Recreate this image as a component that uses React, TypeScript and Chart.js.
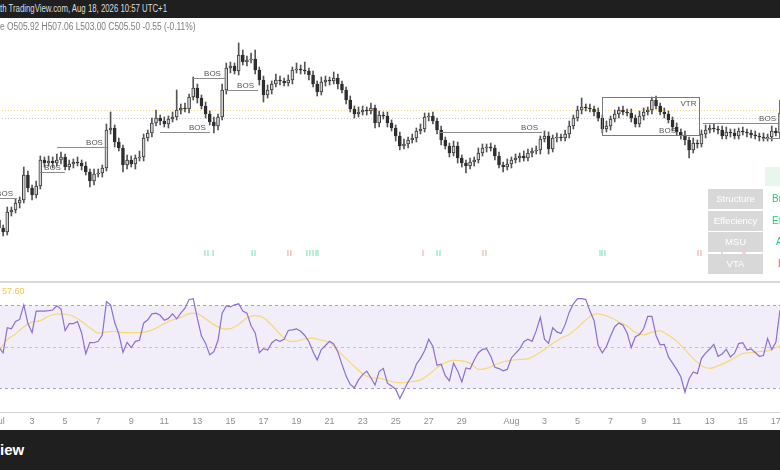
import React, { useEffect, useRef } from "react";
import { Chart, registerables } from "chart.js";

Chart.register(...registerables);

// ---------- DATA ----------
const candleStepDays = 0.25; // one candle every 6 hours, days counted from Jul 1
const firstOpen = 494.8;
const closes = [
  494.0, 493.6, 495.6, 495.8, 496.5, 496.8, 499.3, 498.0, 497.3, 498.2,
  500.8, 500.5, 500.7, 500.5, 500.8, 501.1, 500.1, 500.4, 500.6, 500.5,
  500.2, 499.6, 498.7, 499.4, 499.5, 500.0, 503.8, 504.0, 502.6, 502.0,
  500.3, 500.8, 500.4, 501.0, 501.1, 503.0, 503.5, 504.5, 505.0, 504.7,
  504.4, 504.9, 505.1, 505.8, 506.0, 505.9, 507.1, 508.0, 507.0, 506.2,
  505.4, 504.6, 504.2, 505.1, 507.8, 510.0, 510.2, 509.7, 511.3, 510.6,
  510.8, 510.9, 509.8, 508.8, 507.3, 507.8, 508.4, 508.8, 508.7, 508.5,
  508.8, 509.8, 509.9, 509.8, 509.7, 509.3, 508.4, 507.6, 508.6, 508.8,
  508.7, 509.0, 508.4, 507.8, 506.8, 505.9, 505.4, 505.6, 505.8, 505.7,
  506.0, 504.5, 505.3, 505.2, 504.5, 504.0, 503.2, 502.2, 502.4, 502.8,
  503.0, 503.7, 503.9, 505.1, 505.2, 504.7, 503.8, 502.8, 502.2, 501.5,
  502.2, 501.0, 500.5, 500.2, 500.6, 500.8, 501.5, 502.0, 502.1, 502.0,
  501.2, 500.3, 500.1, 500.4, 500.8, 501.0, 501.2, 501.0, 501.5, 501.7,
  501.8, 502.9, 503.2, 501.9, 503.0, 503.1, 503.0, 503.4, 504.2, 505.0,
  505.8, 506.1, 506.0, 505.9, 505.6, 505.0, 503.9, 504.2, 504.9, 505.4,
  505.8, 505.6, 505.5, 505.0, 504.4, 505.2, 505.6, 505.8, 506.8, 506.2,
  505.6, 505.4, 504.8, 504.1, 503.6, 503.3, 502.8, 501.8, 502.5, 502.4,
  503.4, 503.8, 504.0, 503.9, 503.8, 503.2, 503.6, 503.5, 503.2, 503.7,
  503.6, 503.5, 503.3, 503.2, 503.1, 503.0, 503.1, 503.7, 503.5, 505.5,
];
const wickUp = [
  0.4, 0.3, 0.5, 0.3, 0.4, 0.3, 0.8, 0.4, 0.3, 0.5,
  0.4, 0.3, 0.5, 0.4, 0.6, 0.5, 0.3, 0.4, 0.3, 0.5,
  0.3, 0.4, 0.3, 0.5, 0.4, 0.3, 0.6, 1.6, 0.3, 0.4,
  0.3, 0.5, 0.4, 0.3, 0.6, 0.4, 0.3, 0.5, 0.8, 0.3,
  0.4, 0.3, 0.5, 2.0, 0.4, 0.5, 0.3, 1.1, 0.4, 0.3,
  0.4, 0.3, 0.5, 0.3, 0.6, 0.5, 0.4, 0.3, 1.2, 0.5,
  0.4, 0.6, 0.9, 0.3, 0.4, 0.5, 0.3, 0.6, 0.4, 0.3,
  0.5, 0.3, 0.6, 0.4, 0.8, 0.3, 0.4, 0.3, 0.5, 0.4,
  0.3, 0.6, 0.4, 0.3, 0.3, 0.4, 0.3, 0.5, 0.4, 0.3,
  0.5, 0.3, 0.4, 0.3, 0.4, 0.3, 0.3, 0.4, 0.5, 0.3,
  0.4, 0.3, 0.5, 0.4, 0.3, 0.4, 0.3, 0.4, 0.3, 0.3,
  0.5, 0.4, 0.3, 0.3, 0.4, 0.3, 0.5, 0.4, 0.3, 0.4,
  0.3, 0.4, 0.3, 0.5, 0.3, 0.4, 0.3, 0.5, 0.4, 0.3,
  0.4, 0.3, 0.5, 0.4, 0.3, 0.4, 0.3, 0.4, 0.5, 0.3,
  0.4, 0.9, 0.3, 0.4, 0.3, 0.4, 0.3, 0.5, 0.3, 0.4,
  0.3, 0.4, 0.3, 0.4, 0.3, 0.5, 0.4, 0.3, 0.3, 0.4,
  0.3, 0.4, 0.3, 0.3, 0.4, 0.3, 0.4, 0.3, 0.5, 0.3,
  0.4, 0.5, 0.3, 0.4, 0.3, 0.4, 0.5, 0.3, 0.4, 0.3,
  0.4, 0.3, 0.3, 0.4, 0.3, 0.4, 0.3, 0.5, 0.3, 1.3,
];
const wickDn = [
  1.0, 0.4, 0.3, 0.4, 0.3, 0.5, 0.3, 0.4, 0.5, 0.3,
  0.3, 0.4, 0.3, 0.5, 0.3, 0.4, 0.3, 0.3, 0.4, 0.3,
  0.4, 0.3, 0.6, 0.4, 0.3, 0.4, 0.3, 0.4, 0.5, 0.3,
  0.7, 0.4, 0.3, 0.5, 0.3, 0.4, 0.3, 0.4, 0.3, 0.4,
  0.3, 0.4, 0.3, 0.3, 0.4, 0.3, 0.4, 0.3, 0.5, 0.3,
  0.4, 0.3, 0.7, 0.4, 0.3, 0.4, 0.5, 0.3, 0.4, 0.3,
  0.4, 0.3, 0.4, 0.5, 0.7, 0.3, 0.4, 0.3, 0.4, 0.3,
  0.3, 0.4, 0.3, 0.4, 0.3, 0.5, 0.3, 0.4, 0.3, 0.4,
  0.4, 0.3, 0.5, 0.3, 0.4, 0.3, 0.4, 0.3, 0.3, 0.4,
  0.3, 0.5, 0.4, 0.3, 0.4, 0.3, 0.5, 0.4, 0.3, 0.4,
  0.3, 0.4, 0.3, 0.3, 0.4, 0.3, 0.4, 0.5, 0.3, 0.4,
  0.3, 0.5, 0.4, 0.7, 0.3, 0.4, 0.3, 0.3, 0.4, 0.3,
  0.4, 0.3, 0.5, 0.3, 0.4, 0.3, 0.4, 0.3, 0.3, 0.4,
  0.3, 0.4, 0.3, 0.5, 0.3, 0.4, 0.3, 0.3, 0.4, 0.3,
  0.3, 0.4, 0.3, 0.3, 0.4, 0.3, 0.4, 0.3, 0.4, 0.3,
  0.4, 0.3, 0.3, 0.4, 0.3, 0.3, 0.4, 0.3, 0.4, 0.3,
  0.3, 0.4, 0.3, 0.4, 0.3, 0.4, 0.5, 0.8, 0.3, 0.4,
  0.3, 0.4, 0.3, 0.3, 0.4, 0.3, 0.3, 0.4, 0.3, 0.3,
  0.3, 0.4, 0.3, 0.3, 0.4, 0.3, 0.3, 0.4, 0.3, 0.5,
];
const rsiValues = [
  49.5, 47, 59, 58.5, 62, 63, 70, 61, 56.7, 67,
  67, 67, 67.2, 67.5, 69.5, 68, 57.6, 61, 61, 62,
  56.5, 46.5, 52, 51.8, 52.5, 55.5, 71.5, 70, 61.5, 56,
  47.2, 52, 49.5, 52.5, 53, 61.2, 62.8, 65.7, 66, 65,
  62.6, 63.5, 65.7, 63.3, 66, 68.4, 72.6, 73, 63.5, 55,
  51.5, 46, 47.5, 53, 66, 69.5, 69, 70, 70.5, 67,
  66, 60, 56.5, 47, 49, 48.3, 51.7, 53.3, 52.5, 53.5,
  57.7, 58, 58.5, 57.3, 55.3, 52.3, 47.5, 43.5, 48.5, 50.5,
  52.5, 51.2, 47.4, 41.4, 35.8, 31.8, 30.2, 34, 36.5, 38.2,
  35, 31.5, 38, 39.5, 32.4, 31, 29.5, 25, 29, 33,
  36, 41.5, 44.3, 48, 53.5, 50, 41, 41.5, 36, 33.5,
  42, 38.3, 33, 39.7, 39.2, 43.5, 47, 48.6, 49, 45.3,
  40, 39.4, 38.3, 39, 44.5, 46.7, 48.8, 52.3, 53.5, 52.5,
  57.5, 64, 53.5, 51.5, 59, 57, 56.2, 60.5, 66.5, 70.5,
  73, 73, 72.5, 67, 62.5, 50.5, 47, 50, 55, 59.5,
  61.3, 60.2, 56.5, 49.5, 54.7, 55.8, 58.5, 64.5, 64.5, 55.3,
  50.8, 51, 45, 42, 39, 35.5, 28, 34.5, 37.8, 37,
  44.3, 46.8, 48.8, 51, 45.3, 46.4, 48.7, 45, 46.8, 51.4,
  51.8, 48.3, 48.9, 47.1, 45.3, 45.7, 53.8, 48.5, 52, 67.5,
];
const rsiMaStepDays = 0.5;
const rsiMaValues = [
  47.8, 53.3, 56, 59.5, 61.7, 62.4, 64.5, 65.6, 65.5, 64.5,
  62, 59, 56.5, 57, 57.2, 56.7, 56.7, 56.7, 57.3, 58.8,
  61, 62.8, 64, 65.8, 65.8, 63.3, 60.5, 58.6, 58.6, 60.6,
  63.7, 64.8, 63.8, 60.2, 56, 52.6, 52.6, 53.6, 54, 53,
  52, 48, 44.2, 40.4, 36.9, 35, 34.8, 33.8, 32.8, 32.6,
  33.2, 33.9, 36.5, 39.8, 42.2, 43.3, 43.1, 41.9, 39.1, 39.5,
  41.2, 42.7, 43.4, 43.8, 44.1, 46, 48.6, 51.4, 54, 55.8,
  59, 62.8, 65.5, 65.3, 63.9, 61.8, 59.8, 56.8, 55.6, 56.9,
  57.5, 55.4, 52.6, 48.5, 44.2, 40.8, 39.5, 40.7, 42.4, 44.5,
  46.7, 47, 47.6, 47.9, 49.5, 50.8,
];
const tickDays = [0, 2, 4, 6, 8, 10, 12, 14, 16, 18, 20, 22, 24, 26, 28, 31, 33, 35, 37, 39, 41, 43, 45, 47];
const tickLabels = ["Jul", "3", "5", "7", "9", "11", "13", "15", "17", "19", "21", "23", "25", "27", "29", "Aug", "3", "5", "7", "9", "11", "13", "15", "17"];

const bosStart = [0.06, 2.48, 3.51, 9.74, 11.68, 13.73, 26.68, 36.48, 42.59, 46.16];
const bosEnd = [1.09, 3.99, 6.53, 12.76, 13.67, 15.67, 32.85, 41.2, 47.25, 47.25];
const bosLevel = [497.0, 499.6, 502.1, 503.6, 509.0, 507.8, 503.6, 503.3, 504.5, 503.0];
const bosText = ["BOS", "BOS", "BOS", "BOS", "BOS", "BOS", "BOS", "BOS", "BOS", ""];

const vtrDays = [36.48, 42.35];
const vtrPrices = [507.1, 503.3];
const vtrText = "VTR";

const bullSignalDays = [12.46, 12.64, 12.95, 15.31, 15.49, 18.63, 18.81, 19.0, 19.18, 19.3, 26.5, 26.68, 36.36, 36.48, 36.66, 43.74];
const bearSignalDays = [17.48, 17.66, 25.65, 29.28, 29.46, 42.29, 42.47, 45.01, 45.13];
const signalPrice = 491.5;

const priceLevels = [505.8, 505.0];
const rsiUpper = 70;
const rsiMiddle = 50;
const rsiLower = 30;
const rsiLastMa = "57.60";

const tableRows = ["Structure", "Effeciency", "MSU", "VTA"];
const tableValues = ["Break", "Efficient", "Active", "Bearish"];

const headerLine1 = "th TradingView.com, Aug 18, 2026 10:57 UTC+1";
const ohlcLine = "e O505.92 H507.06 L503.00 C505.50 -0.55 (-0.11%)";

// ---------- LAYOUT / STYLE ----------
const X_MIN = 0;
const X_MAX = 47.25;
const PRICE_MIN = 488.6;
const PRICE_MAX = 516.8;
const RSI_MIN = 18.57;
const RSI_MAX = 80.48;
const AXIS_H = 18;
const FONT = '"Liberation Sans", Arial, sans-serif';

const overlayPlugin = {
  id: "priceOverlay",
  beforeDatasetsDraw(chart: any) {
    const { ctx, chartArea, scales } = chart;
    const y = scales.y;
    ctx.save();
    ctx.lineWidth = 1;
    ctx.setLineDash([1, 2]);
    priceLevels.forEach((p, i) => {
      const py = Math.round(y.getPixelForValue(p)) + 0.5;
      ctx.strokeStyle = i === 0 ? "#f3d77a" : "#c9c9c9";
      ctx.beginPath();
      ctx.moveTo(chartArea.left, py);
      ctx.lineTo(chartArea.right, py);
      ctx.stroke();
    });
    ctx.restore();
  },
  afterDatasetsDraw(chart: any) {
    const { ctx, scales } = chart;
    const x = scales.x;
    const y = scales.y;
    ctx.save();
    ctx.lineWidth = 1;
    ctx.strokeStyle = "#8c8c8c";
    ctx.fillStyle = "#555555";
    ctx.font = `8px ${FONT}`;
    ctx.textAlign = "right";
    ctx.textBaseline = "bottom";
    for (let i = 0; i < bosLevel.length; i++) {
      const x0 = x.getPixelForValue(bosStart[i]);
      const x1 = x.getPixelForValue(bosEnd[i]);
      const py = Math.round(y.getPixelForValue(bosLevel[i])) + 0.5;
      ctx.beginPath();
      ctx.moveTo(x0, py);
      ctx.lineTo(x1, py);
      ctx.stroke();
      if (bosText[i]) ctx.fillText(bosText[i], x1 - 4, py - 1);
    }
    const bx0 = Math.round(x.getPixelForValue(vtrDays[0])) + 0.5;
    const bx1 = Math.round(x.getPixelForValue(vtrDays[1])) + 0.5;
    const by0 = Math.round(y.getPixelForValue(vtrPrices[0])) + 0.5;
    const by1 = Math.round(y.getPixelForValue(vtrPrices[1])) + 0.5;
    ctx.strokeStyle = "#7a7a7a";
    ctx.strokeRect(bx0, by0, bx1 - bx0, by1 - by0);
    ctx.textBaseline = "top";
    ctx.fillText(vtrText, bx1 - 3, by0 + 2);
    ctx.restore();
  },
};

const rsiPlugin = {
  id: "rsiBands",
  beforeDatasetsDraw(chart: any) {
    const { ctx, chartArea, scales } = chart;
    const y = scales.y;
    const yu = Math.round(y.getPixelForValue(rsiUpper)) + 0.5;
    const ym = Math.round(y.getPixelForValue(rsiMiddle)) + 0.5;
    const yl = Math.round(y.getPixelForValue(rsiLower)) + 0.5;
    ctx.save();
    ctx.fillStyle = "rgba(126,87,194,0.10)";
    ctx.fillRect(chartArea.left, yu, chartArea.right - chartArea.left, yl - yu);
    ctx.lineWidth = 1;
    ctx.setLineDash([3, 3]);
    [[yu, "#a5a3ab"], [ym, "#c3c1c8"], [yl, "#a5a3ab"]].forEach(([py, c]: any) => {
      ctx.strokeStyle = c;
      ctx.beginPath();
      ctx.moveTo(chartArea.left, py);
      ctx.lineTo(chartArea.right, py);
      ctx.stroke();
    });
    ctx.restore();
  },
  afterDraw(chart: any) {
    // time axis drawn below the pane, using the chart's own x scale
    const { ctx, chartArea, scales } = chart;
    const x = scales.x;
    ctx.save();
    ctx.strokeStyle = "#d2d2d2";
    ctx.lineWidth = 1;
    const by = Math.round(chartArea.bottom) + 0.5;
    ctx.beginPath();
    ctx.moveTo(0, by);
    ctx.lineTo(chart.width, by);
    ctx.stroke();
    ctx.fillStyle = "#8d8d8d";
    ctx.font = `9px ${FONT}`;
    ctx.textAlign = "center";
    ctx.textBaseline = "middle";
    tickDays.forEach((d, i) => {
      ctx.fillText(tickLabels[i], x.getPixelForValue(d), chartArea.bottom + 10);
    });
    ctx.restore();
  },
};

export default function App() {
  const priceRef = useRef<HTMLCanvasElement>(null);
  const rsiRef = useRef<HTMLCanvasElement>(null);

  useEffect(() => {
    document.body.style.margin = "0";
    const opens = closes.map((_, i) => (i === 0 ? firstOpen : closes[i - 1]));
    const days = closes.map((_, i) => i * candleStepDays);
    const highs = closes.map((c, i) => Math.max(c, opens[i]) + wickUp[i]);
    const lows = closes.map((c, i) => Math.min(c, opens[i]) - wickDn[i]);
    const isUp = closes.map((c, i) => c >= opens[i]);

    const price = new Chart(priceRef.current as HTMLCanvasElement, {
      type: "bar",
      data: {
        datasets: [
          {
            type: "scatter",
            data: bullSignalDays.map((d) => ({ x: d, y: signalPrice })),
            pointStyle: "line",
            rotation: 90,
            radius: 3,
            borderWidth: 1,
            borderColor: "#72e3b0",
            order: 0,
          } as any,
          {
            type: "scatter",
            data: bearSignalDays.map((d) => ({ x: d, y: signalPrice })),
            pointStyle: "line",
            rotation: 90,
            radius: 3,
            borderWidth: 1,
            borderColor: "#f4a0a0",
            order: 0,
          } as any,
          {
            type: "bar",
            data: days.map((d, i) => ({ x: d, y: [opens[i], closes[i]] })),
            barThickness: 3,
            minBarLength: 1,
            grouped: false,
            borderWidth: 1,
            borderSkipped: false,
            backgroundColor: isUp.map((u) => (u ? "#d4d4d4" : "#2e2e2e")),
            borderColor: isUp.map((u) => (u ? "#3c3c3c" : "#2e2e2e")),
            order: 1,
          } as any,
          {
            type: "bar",
            data: days.map((d, i) => ({ x: d, y: [lows[i], highs[i]] })),
            barThickness: 1,
            grouped: false,
            borderWidth: 0,
            backgroundColor: "#555555",
            order: 2,
          } as any,
        ],
      },
      options: {
        animation: false,
        responsive: false,
        maintainAspectRatio: false,
        layout: { padding: 0, autoPadding: false } as any,
        plugins: { legend: { display: false }, tooltip: { enabled: false } },
        scales: {
          x: { type: "linear", min: X_MIN, max: X_MAX, offset: false, display: false },
          y: { type: "linear", min: PRICE_MIN, max: PRICE_MAX, display: false },
        },
      },
      plugins: [overlayPlugin],
    });

    const rsi = new Chart(rsiRef.current as HTMLCanvasElement, {
      type: "line",
      data: {
        datasets: [
          {
            data: rsiValues.map((v, i) => ({ x: i * candleStepDays, y: v })),
            borderColor: "#8b6fd0",
            borderWidth: 1.2,
            pointRadius: 0,
            tension: 0,
          },
          {
            data: rsiMaValues.map((v, i) => ({ x: i * rsiMaStepDays, y: v })),
            borderColor: "#f6d874",
            borderWidth: 1.2,
            pointRadius: 0,
            tension: 0.3,
          },
        ],
      },
      options: {
        animation: false,
        responsive: false,
        maintainAspectRatio: false,
        layout: { padding: { left: 0, right: 0, top: 0, bottom: AXIS_H }, autoPadding: false } as any,
        plugins: { legend: { display: false }, tooltip: { enabled: false } },
        scales: {
          x: { type: "linear", min: X_MIN, max: X_MAX, offset: false, display: false },
          y: { type: "linear", min: RSI_MIN, max: RSI_MAX, display: false },
        },
      },
      plugins: [rsiPlugin],
    });

    return () => {
      price.destroy();
      rsi.destroy();
    };
  }, []);

  return (
    <div
      style={{
        position: "fixed",
        left: 0,
        top: 0,
        width: 780,
        height: 470,
        overflow: "hidden",
        background: "#ffffff",
        fontFamily: FONT,
      }}
    >
      <canvas
        ref={priceRef}
        width={781}
        height={282}
        style={{ position: "absolute", left: -1, top: 0, width: 781, height: 282 }}
      />
      <div style={{ position: "absolute", left: 0, top: 281, width: 780, height: 2, background: "#d9d9d9" }} />
      <canvas
        ref={rsiRef}
        width={781}
        height={147}
        style={{ position: "absolute", left: -1, top: 283, width: 781, height: 147 }}
      />
      {/* header */}
      <div
        style={{
          position: "absolute",
          left: 0,
          top: 0,
          width: 780,
          height: 18,
          background: "#1f1f1f",
          color: "#dcdcdc",
          fontSize: 10,
          lineHeight: "18px",
          whiteSpace: "nowrap",
        }}
      >
        <span style={{ display: "inline-block", transform: "scaleX(0.78)", transformOrigin: "left center" }}>{headerLine1}</span>
      </div>
      <div
        style={{
          position: "absolute",
          left: 0,
          top: 21,
          height: 12,
          color: "#7d7d7d",
          fontSize: 10,
          lineHeight: "12px",
          whiteSpace: "nowrap",
        }}
      >
        <span style={{ display: "inline-block", transform: "scaleX(0.84)", transformOrigin: "left center" }}>{ohlcLine}</span>
      </div>
      {/* RSI MA value */}
      <div style={{ position: "absolute", left: 2, top: 286, color: "#f1c84b", fontSize: 9, lineHeight: "10px" }}>{rsiLastMa}</div>
      {/* table */}
      <div style={{ position: "absolute", left: 765, top: 167, width: 15, height: 19, background: "#e8f6ec" }} />
      {tableRows.map((r, i) => (
        <React.Fragment key={r}>
          <div
            style={{
              position: "absolute",
              left: 708,
              top: 189 + i * 21.7,
              width: 55,
              height: 20,
              background: "#d8d8d8",
              color: "#ffffff",
              fontSize: 9.5,
              lineHeight: "20px",
              textAlign: "center",
              whiteSpace: "nowrap",
            }}
          >
            {r}
          </div>
          <div
            style={{
              position: "absolute",
              left: i === 3 ? 778 : i === 2 ? 776 : 772,
              top: 189 + i * 21.7,
              height: 20,
              color: i === 3 ? "#ef6b6b" : "#22cf74",
              fontSize: 10,
              lineHeight: "20px",
              whiteSpace: "nowrap",
            }}
          >
            {tableValues[i]}
          </div>
        </React.Fragment>
      ))}
      {/* footer */}
      <div
        style={{
          position: "absolute",
          left: 0,
          top: 430,
          width: 780,
          height: 40,
          background: "#1f1f1f",
          color: "#ffffff",
          fontSize: 15,
          fontWeight: 700,
          lineHeight: "40px",
        }}
      >
        iew
      </div>
    </div>
  );
}
